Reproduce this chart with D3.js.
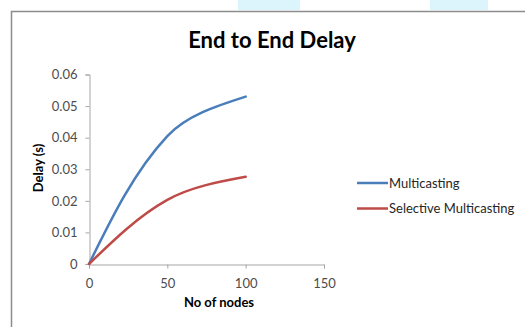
<!DOCTYPE html>
<html>
<head>
<meta charset="utf-8">
<script src="https://cdn.jsdelivr.net/npm/d3@7"></script>
<style>
  body { margin: 0; background: #fff; }
  svg { display: block; font-family: Lato, "Open Sans", sans-serif; }
</style>
</head>
<body>
<div id="chart"></div>
<script>
// данные графика
const nodes = [0, 50, 100];
const multicasting = [0, 0.0405, 0.0530];
const selective = [0, 0.0203, 0.0276];
const xTicks = [0, 50, 100, 150];
const yTicks = [0, 0.01, 0.02, 0.03, 0.04, 0.05, 0.06];

const series = [
    { name: 'Multicasting', values: multicasting, color: '#4a7ebb' },
    { name: 'Selective Multicasting', values: selective, color: '#be4b48' }
];

const width = 525, height = 327;

const svg = d3.select('#chart')
    .append('svg')
    .attr('width', width)
    .attr('height', height);

// бледные пятна фона сверху
svg.append('rect').attr('x', 238).attr('y', 0).attr('width', 62).attr('height', 10).attr('fill', '#dcf4fb');
svg.append('rect').attr('x', 430).attr('y', 0).attr('width', 58).attr('height', 10).attr('fill', '#dcf4fb');

// рамка области диаграммы
svg.append('path')
    .attr('d', 'M11.5,' + height + 'V11.5H' + width)
    .attr('fill', 'none')
    .attr('stroke', '#8c8c8c')
    .attr('stroke-width', 1.5);

const x = d3.scaleLinear().domain([0, 150]).range([89, 324]);
const y = d3.scaleLinear().domain([0, 0.06]).range([264, 74.5]);

// ось Y
const yAxis = svg.append('g')
    .attr('transform', 'translate(89.5,0)')
    .call(d3.axisLeft(y).tickValues(yTicks).tickSize(4).tickPadding(8)
        .tickFormat(d => d === 0 ? '0' : d3.format('.2f')(d)));

// ось X
const xAxis = svg.append('g')
    .attr('transform', 'translate(0,264.5)')
    .call(d3.axisBottom(x).tickValues(xTicks).tickSize(4).tickPadding(10));

[yAxis, xAxis].forEach(g => {
    g.select('.domain').attr('stroke', '#a6a6a6');
    g.selectAll('.tick line').attr('stroke', '#a6a6a6');
    g.selectAll('.tick text')
        .attr('fill', '#4d4d4d')
        .style('font-size', '13px')
        .style('font-family', 'Lato, sans-serif');
});

// сглаженная линия примерно как в Excel (кривые Безье, длины по хордам)
function smoothPath(values) {
    const p = values.map((v, i) => [x(nodes[i]), y(v)]);
    const n = p.length;
    const dist = (a, b) => Math.hypot(b[0] - a[0], b[1] - a[1]);
    const path = d3.path();
    path.moveTo(p[0][0], p[0][1]);
    const cIn = [], cOut = [];
    for (let i = 1; i < n - 1; i++) {
        const dx = p[i + 1][0] - p[i - 1][0];
        const dy = p[i + 1][1] - p[i - 1][1];
        const d0 = dist(p[i - 1], p[i]), d1 = dist(p[i], p[i + 1]);
        const a = d0 / (d0 + d1) / 3, b = d1 / (d0 + d1) / 3;
        cIn[i] = [p[i][0] - dx * a, p[i][1] - dy * a];
        cOut[i] = [p[i][0] + dx * b, p[i][1] + dy * b];
    }
    // концы: контрольная точка направлена на соседнюю
    cOut[0] = [p[0][0] + (cIn[1][0] - p[0][0]) / 2, p[0][1] + (cIn[1][1] - p[0][1]) / 2];
    cIn[n - 1] = [p[n - 1][0] + (cOut[n - 2][0] - p[n - 1][0]) / 2, p[n - 1][1] + (cOut[n - 2][1] - p[n - 1][1]) / 2];
    for (let i = 0; i < n - 1; i++) {
        path.bezierCurveTo(cOut[i][0], cOut[i][1], cIn[i + 1][0], cIn[i + 1][1], p[i + 1][0], p[i + 1][1]);
    }
    return path.toString();
}

series.forEach(s => {
    svg.append('path')
        .attr('d', smoothPath(s.values))
        .attr('fill', 'none')
        .attr('stroke', s.color)
        .attr('stroke-width', 2.5)
        .attr('stroke-linecap', 'round');
});

// заголовок
svg.append('text')
    .attr('x', 272)
    .attr('y', 48)
    .attr('text-anchor', 'middle')
    .style('font-size', '22px')
    .style('font-weight', 'bold')
    .text('End to End Delay');

// подписи осей
svg.append('text')
    .attr('x', 219)
    .attr('y', 307)
    .attr('text-anchor', 'middle')
    .style('font-size', '13px')
    .style('font-weight', 'bold')
    .text('No of nodes');

svg.append('text')
    .attr('transform', 'translate(43,168) rotate(-90)')
    .attr('text-anchor', 'middle')
    .style('font-size', '13px')
    .style('font-weight', 'bold')
    .text('Delay (s)');

// легенда
const legend = svg.append('g');
series.forEach((s, i) => {
    const ly = 183 + i * 25.5;
    legend.append('line')
        .attr('x1', 357).attr('x2', 388)
        .attr('y1', ly).attr('y2', ly)
        .attr('stroke', s.color)
        .attr('stroke-width', 2.5);
    legend.append('text')
        .attr('x', 389)
        .attr('y', ly + 4.5)
        .attr('fill', '#262626')
        .style('font-size', '13px')
        .text(s.name);
});
</script>
</body>
</html>
